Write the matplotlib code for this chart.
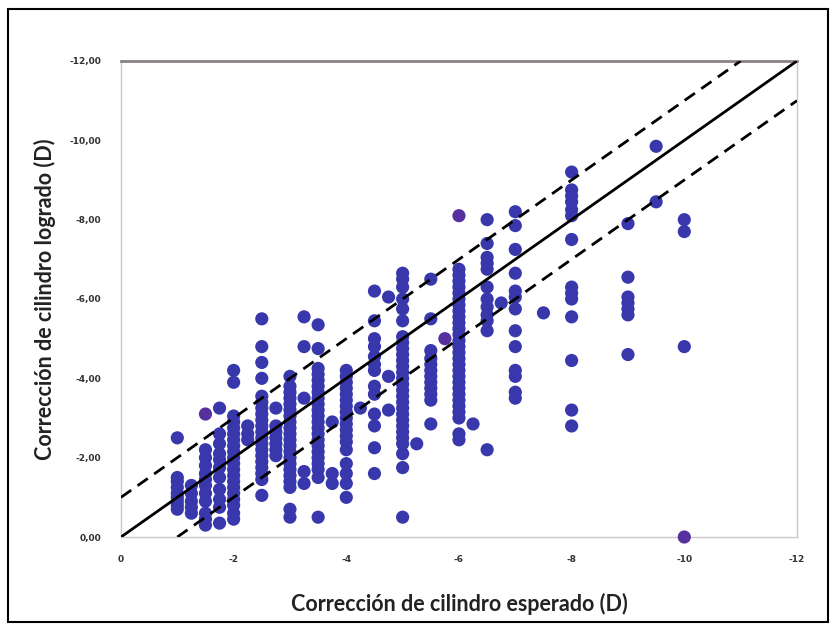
import matplotlib
matplotlib.use("Agg")
import matplotlib.pyplot as plt
from matplotlib.patches import Rectangle

# Expected cylinder correction (D) for each column of measurements
expected_groups = [-1.0, -1.25, -1.5, -1.75, -2.0, -2.25, -2.5, -2.75, -3.0,
                   -3.25, -3.5, -3.75, -4.0, -4.25, -4.5, -4.75, -5.0, -5.25,
                   -5.5, -5.75, -6.0, -6.25, -6.5, -6.75, -7.0, -7.5, -8.0,
                   -9.0, -9.5, -10.0]

# Achieved cylinder correction (D) per expected value
achieved_groups = [
    [-2.5, -1.5, -1.4, -1.25, -1.1, -1.0, -0.9, -0.8, -0.7],
    [-1.3, -1.1, -0.9, -0.75, -0.6],
    [-2.2, -2.0, -1.8, -1.6, -1.45, -1.3, -1.1, -0.9, -0.6, -0.45, -0.3],
    [-3.25, -2.6, -2.35, -2.1, -1.95, -1.75, -1.5, -1.2, -0.95, -0.75, -0.35],
    [-4.2, -3.9, -3.05, -2.9, -2.75, -2.6, -2.45, -2.3, -2.15, -2.0, -1.85,
     -1.7, -1.55, -1.4, -1.25, -1.1, -0.95, -0.8, -0.6, -0.45],
    [-2.8, -2.6, -2.45],
    [-5.5, -4.8, -4.4, -4.0, -3.55, -3.4, -3.25, -3.1, -2.95, -2.8, -2.65,
     -2.5, -2.35, -2.2, -2.05, -1.9, -1.75, -1.6, -1.45, -1.05],
    [-3.25, -2.8, -2.65, -2.5, -2.35, -2.2, -2.05],
    [-4.05, -3.8, -3.65, -3.5, -3.35, -3.2, -3.05, -2.9, -2.75, -2.6, -2.45,
     -2.3, -2.15, -2.0, -1.85, -1.7, -1.55, -1.4, -1.25, -0.7, -0.5],
    [-5.55, -4.8, -3.5, -1.65, -1.35],
    [-5.35, -4.75, -4.25, -4.1, -3.95, -3.8, -3.65, -3.5, -3.35, -3.2, -3.05,
     -2.9, -2.75, -2.6, -2.45, -2.3, -2.15, -2.0, -1.85, -1.7, -1.5, -0.5],
    [-2.9, -1.6, -1.35],
    [-4.2, -4.05, -3.9, -3.75, -3.6, -3.45, -3.3, -3.15, -3.0, -2.85, -2.7,
     -2.55, -2.4, -2.2, -1.85, -1.6, -1.35, -1.0],
    [-3.25],
    [-6.2, -5.45, -5.0, -4.8, -4.55, -4.35, -4.2, -3.8, -3.6, -3.1, -2.8,
     -2.25, -1.6],
    [-6.05, -4.05, -3.2],
    [-6.65, -6.5, -6.3, -6.0, -5.75, -5.45, -5.05, -4.9, -4.75, -4.6, -4.45,
     -4.3, -4.15, -4.0, -3.85, -3.7, -3.55, -3.4, -3.25, -3.1, -2.95, -2.8,
     -2.65, -2.5, -2.35, -2.1, -1.75, -0.5],
    [-2.35],
    [-6.5, -5.5, -4.7, -4.5, -4.35, -4.2, -4.05, -3.9, -3.75, -3.6, -3.45,
     -2.85],
    [],
    [-6.75, -6.6, -6.45, -6.3, -6.15, -6.0, -5.85, -5.7, -5.55, -5.4, -5.25,
     -5.1, -4.95, -4.8, -4.65, -4.5, -4.35, -4.2, -4.05, -3.9, -3.75, -3.6,
     -3.45, -3.3, -3.15, -3.0, -2.6, -2.45],
    [-2.85],
    [-8.0, -7.4, -7.05, -6.9, -6.75, -6.3, -6.0, -5.8, -5.6, -5.45, -5.2,
     -2.2],
    [-5.9],
    [-8.2, -7.85, -7.25, -6.65, -6.2, -6.05, -5.75, -5.2, -4.8, -4.2, -4.05,
     -3.65, -3.5],
    [-5.65],
    [-9.2, -8.75, -8.6, -8.45, -8.25, -8.1, -7.5, -6.3, -6.15, -6.0, -5.55,
     -4.45, -3.2, -2.8],
    [-7.9, -6.55, -6.05, -5.9, -5.75, -5.6, -4.6],
    [-9.85, -8.45],
    [-8.0, -7.7, -4.8],
]

# Isolated eyes drawn in a violet tone
outlier_expected = [-1.5, -5.75, -6.0, -10.0]
outlier_achieved = [-3.1, -5.0, -8.1, 0.0]

x_ticks = [0, -2, -4, -6, -8, -10, -12]
y_ticks = [0, -2, -4, -6, -8, -10, -12]

expected = [e for e, ys in zip(expected_groups, achieved_groups) for _ in ys]
achieved = [y for ys in achieved_groups for y in ys]

fig = plt.figure(figsize=(8.36, 6.30), dpi=100)
ax = fig.add_axes([0.1447, 0.1476, 0.8086, 0.7556])

ax.scatter(expected, achieved, s=90, color="#3838ac", edgecolors="none",
           zorder=3)
ax.scatter(outlier_expected, outlier_achieved, s=90, color="#55309e",
           edgecolors="none", zorder=3, clip_on=False)

# Identity line and ±1 D limits
ax.plot([0, -12], [0, -12], color="black", lw=2.0, zorder=4)
ax.plot([0, -11], [-1, -12], color="black", lw=2.0, ls=(0, (4.5, 2.8)),
        zorder=4)
ax.plot([-1, -12], [0, -11], color="black", lw=2.0, ls=(0, (4.5, 2.8)),
        zorder=4)

ax.set_xlim(0, -12)
ax.set_ylim(0, -12)
ax.set_xticks(x_ticks)
ax.set_yticks(y_ticks)
ax.set_xticklabels([f"{t:d}" if t != 0 else "0" for t in x_ticks])
ax.set_yticklabels([f"{t:.2f}".replace(".", ",") if t != 0 else "0,00"
                    for t in y_ticks])
ax.tick_params(length=0, labelsize=6.5, colors="#333333")
ax.tick_params(axis="x", pad=13)
ax.tick_params(axis="y", pad=14)
for lbl in ax.get_xticklabels() + ax.get_yticklabels():
    lbl.set_fontweight("bold")

for side in ("left", "right", "bottom"):
    ax.spines[side].set_color("#cfc8c8")
    ax.spines[side].set_linewidth(1.0)
ax.spines["top"].set_color("#8c8282")
ax.spines["top"].set_linewidth(2.0)

ax.set_xlabel("Corrección de cilindro esperado (D)", fontsize=15.5,
              fontweight="bold", family="Lato", color="#222222", labelpad=21)
ax.set_ylabel("Corrección de cilindro logrado (D)", fontsize=15.5,
              fontweight="bold", family="Lato", color="#222222", labelpad=10)

# Outer frame of the figure
fig.patches.append(Rectangle((8 / 836, 1 - 622 / 630), 820 / 836,
                             613 / 630, transform=fig.transFigure,
                             fill=False, edgecolor="black", lw=1.5))

fig.savefig("out.png", dpi=100)
